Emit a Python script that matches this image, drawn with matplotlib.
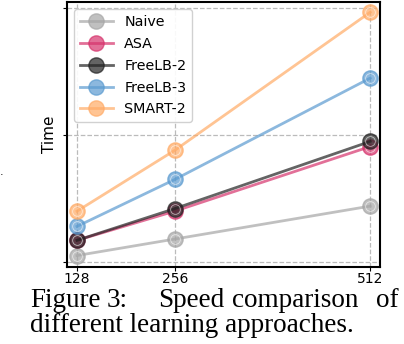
import numpy as np
import matplotlib
matplotlib.use("Agg")
import matplotlib.pyplot as plt

# sequence lengths and (relative) time per method
seq_len = [128, 256, 512]
naive = [0.05, 0.18, 0.44]
asa = [0.17, 0.40, 0.91]
freelb2 = [0.17, 0.42, 0.95]
freelb3 = [0.28, 0.65, 1.45]
smart2 = [0.40, 0.88, 1.97]

names = ["Naive", "ASA", "FreeLB-2", "FreeLB-3", "SMART-2"]
series = [naive, asa, freelb2, freelb3, smart2]
colors = ["#a6a6a6", "#d6336c", "#222222", "#5b9bd0", "#ffab66"]

fig = plt.figure(figsize=(4.04, 3.44), dpi=100)
ax = fig.add_axes([0.166, 0.224, 0.775, 0.77])

for name, vals, c in zip(names, series, colors):
    ax.plot(seq_len, vals, color=c, lw=2, alpha=0.7, marker="o", ms=11,
            mfc=c, mec=c, label=name)
    ax.plot(seq_len, vals, ls="none", marker="o", ms=7, mfc="none",
            mec="white", mew=0.6, alpha=0.6)

ax.set_xlim(115, 525)
ax.set_ylim(-0.04, 2.05)
ax.set_xticks(seq_len)
ax.set_xticklabels([str(s) for s in seq_len], fontsize=10)
ax.set_yticks([0, 1, 2])
ax.set_yticklabels([])
ax.tick_params(axis="y", length=3)
ax.tick_params(axis="x", length=3, pad=1)
ax.grid(True, ls="--", color="#bbbbbb", lw=0.9)
for s in ax.spines.values():
    s.set_linewidth(1.5)
ax.set_ylabel("Time", fontsize=11, labelpad=1)
ax.legend(loc="upper left", fontsize=10.3, handlelength=2.3, labelspacing=0.55,
          borderaxespad=0.5, framealpha=0.9)

# caption, words spread to mimic justified text
cap = {"family": "Liberation Serif", "fontsize": 19.5, "va": "baseline"}
for word, x in [("Figure", 30), ("3:", 107), ("Speed", 158),
                ("comparison", 232), ("of", 376)]:
    fig.text(x / 404, 1 - 307 / 344, word, **cap)
fig.text(30 / 404, 1 - 332 / 344, "different learning approaches.", **cap)
fig.text(0.0, 0.49, ".", fontsize=8)

fig.savefig("out.png", dpi=100)
